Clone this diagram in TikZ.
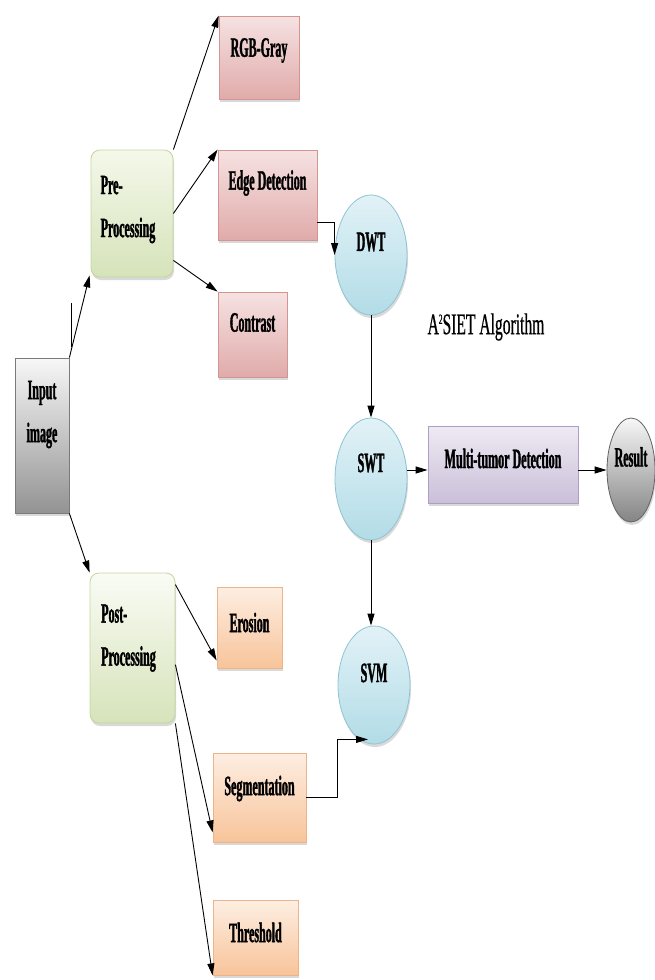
\documentclass[tikz,border=0pt]{standalone}
\usepackage{fontspec}
\setmainfont{Liberation Serif}
\newfontfamily\cnd[FakeStretch=0.43,FakeBold=1.2]{Liberation Serif}
\newfontfamily\cndb[FakeStretch=0.52,FakeBold=0.6]{Liberation Serif}
\usetikzlibrary{arrows.meta,shapes.geometric,shadows}
\definecolor{pinkT}{HTML}{F6E2E2}\definecolor{pinkB}{HTML}{E0ABAA}\definecolor{pinkD}{HTML}{D49492}
\definecolor{orT}{HTML}{FDEEE2}\definecolor{orB}{HTML}{F8C49A}\definecolor{orD}{HTML}{EDB489}
\definecolor{grT}{HTML}{F4F8EA}\definecolor{grB}{HTML}{D6E3BA}\definecolor{grD}{HTML}{C3D69B}
\definecolor{blT}{HTML}{E2F2F7}\definecolor{blB}{HTML}{B2DCE7}\definecolor{blD}{HTML}{8FC3D3}
\definecolor{lvT}{HTML}{EEEAF3}\definecolor{lvB}{HTML}{CABFD9}\definecolor{lvD}{HTML}{AE9EC4}
\definecolor{gyT}{HTML}{F7F7F7}\definecolor{gyB}{HTML}{939393}\definecolor{gyD}{HTML}{7A7A7A}
\tikzset{
  lab/.style={font=\cnd\bfseries\fontsize{28}{43}\selectfont, align=center, inner sep=0pt},
  shp/.style={inner sep=0pt, line width=0.8pt, drop shadow={opacity=0.3, shadow xshift=1pt, shadow yshift=-3pt}},
  pinkbox/.style={shp, rectangle, draw=pinkD, top color=pinkT, bottom color=pinkB},
  orbox/.style={shp, rectangle, draw=orD, top color=orT, bottom color=orB},
  grbox/.style={shp, rectangle, rounded corners=9pt, draw=grD, top color=grT, bottom color=grB},
  blcirc/.style={shp, ellipse, draw=blD, top color=blT, bottom color=blB, minimum width=72pt},
  arr/.style={draw=black, line width=0.9pt, -{Triangle[length=12pt,width=7pt]}},
}
\begin{document}
\begin{tikzpicture}[x=1pt,y=-1pt]
\useasboundingbox (0,0) rectangle (655,980);
% nodes
\node[shp, rectangle, draw=gyD, top color=gyT, bottom color=gyB, minimum width=54pt, minimum height=155pt,
  label={[lab, yshift=21pt]center:Input\\image}] (inp) at (42,435.5) {};
\node[grbox, minimum width=82pt, minimum height=127pt,
  label={[lab, align=left, yshift=4pt, xshift=-4pt]center:Pre-\\Processing}] (pre) at (132,213.5) {};
\node[grbox, top color=grT!50!white, minimum width=85pt, minimum height=150pt,
  label={[lab, align=left, yshift=10pt, xshift=-4pt]center:Post-\\Processing}] (post) at (132.5,648) {};
\node[pinkbox, minimum width=80pt, minimum height=83pt,
  label={[lab, yshift=7pt]center:RGB-Gray}] (rgb) at (259,57.5) {};
\node[pinkbox, minimum width=99pt, minimum height=90pt,
  label={[lab, yshift=12pt]center:Edge Detection}] (edge) at (267.5,195) {};
\node[pinkbox, minimum width=69pt, minimum height=85pt,
  label={[lab, yshift=12pt]center:Contrast}] (con) at (252.5,334.5) {};
\node[orbox, minimum width=65pt, minimum height=81pt,
  label={[lab, yshift=5pt]center:Erosion}] (ero) at (249.5,627.5) {};
\node[orbox, minimum width=93pt, minimum height=89pt,
  label={[lab, yshift=9pt]center:Segmentation}] (seg) at (259.5,797.5) {};
\node[orbox, minimum width=85pt, minimum height=75pt,
  label={[lab, yshift=5pt]center:Threshold}] (thr) at (255.5,937.5) {};
\node[blcirc, minimum height=120pt, label={[lab, yshift=13pt]center:DWT}] (dwt) at (371,255) {};
\node[blcirc, minimum height=122pt, label={[lab, yshift=16pt]center:SWT}] (swt) at (371,479) {};
\node[blcirc, minimum height=118pt, label={[lab, yshift=12pt]center:SVM}] (svm) at (374,685) {};
\node[shp, rectangle, draw=lvD, top color=lvT, bottom color=lvB, minimum width=150pt, minimum height=77pt,
  label={[lab, yshift=6pt]center:Multi-tumor Detection}] (mtd) at (503,464.5) {};
\node[shp, ellipse, draw=gyD!80!black, top color=gyT, bottom color=gyB!90!black, minimum width=48pt, minimum height=104pt,
  label={[lab, yshift=13pt]center:Result}] (res) at (631,470) {};
\node[font=\cndb\fontsize{30}{34}\selectfont, inner sep=0pt] (alg) at (486,327) {A\raisebox{0.75ex}{\fontsize{14}{14}\selectfont 2}SIET Algorithm};
% connectors
\draw[line width=0.9pt] ([xshift=2pt,yshift=11pt]inp.north east) -- ++(0,-44);
\draw[arr] (inp.north east) -- ([xshift=-1pt,yshift=2pt]pre.south west);
\draw[arr] (inp.south east) -- (post.north west);
\draw[arr] (pre.north east) -- (rgb.north west);
\draw[arr] (pre.east) -- (edge.north west);
\draw[arr] ([yshift=17pt]pre.south east) -- (con.north west);
\draw[arr] ([yshift=-27pt]edge.east) -| (dwt.west);
\draw[arr] (dwt.south) -- (swt.north);
\coordinate (m1) at ([yshift=9pt]swt.east);
\draw[arr] (m1) -- (m1 -| mtd.west);
\draw[arr] (res.west -| mtd.east) -- (res.west);
\draw[arr] (swt.south) -- (swt.south |- svm.north);
\draw[arr] (seg.east) -- ++(31,0) |- ([xshift=-6pt,yshift=5pt]svm.south);
\draw[arr] ([yshift=-12pt]post.north east) -- ([yshift=8pt]ero.south west);
\draw[arr] ([yshift=-92pt]post.north east) -- ([yshift=10pt]seg.south west);
\draw[arr] (post.south east) -- (thr.south west);
\end{tikzpicture}
\end{document}
